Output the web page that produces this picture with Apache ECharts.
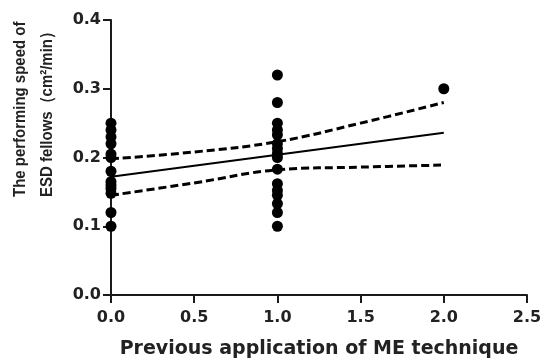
<!DOCTYPE html>
<html>
<head>
<meta charset="utf-8">
<script src="https://cdn.jsdelivr.net/npm/echarts@6/dist/echarts.min.js"></script>
<style>
  html, body { margin: 0; padding: 0; background: #fff; }
  #chart { width: 544px; height: 360px; }
</style>
</head>
<body>
<div id="chart"></div>
<script>
// Speed of ESD fellows grouped by number of previous ME applications
const groupNone = [0.25, 0.24, 0.23, 0.22, 0.205, 0.2, 0.18, 0.165, 0.16, 0.155, 0.148, 0.12, 0.10];
const groupOnce = [0.32, 0.28, 0.25, 0.24, 0.233, 0.22, 0.213, 0.206, 0.20, 0.183, 0.162, 0.152, 0.145, 0.133, 0.12, 0.10];
const groupTwice = [0.30];

// Fitted regression line and its 95% confidence band
const fitX = [0, 2];
const fitY = [0.172, 0.236];
const bandX = [0, 0.5, 1, 1.5, 2];
const bandUpper = [0.198, 0.208, 0.223, 0.250, 0.280];
const bandLower = [0.145, 0.163, 0.182, 0.186, 0.189];

const xTicks = [0, 0.5, 1.0, 1.5, 2.0, 2.5];
const yTicks = [0, 0.1, 0.2, 0.3, 0.4];

const xName = 'Previous application of ME technique';
const yName = 'The performing speed of\nESD fellows（cm²/min）';

const pts = [];
groupNone.forEach(v => pts.push([0, v]));
groupOnce.forEach(v => pts.push([1, v]));
groupTwice.forEach(v => pts.push([2, v]));

const pair = (xs, ys) => xs.map((x, i) => [x, ys[i]]);

const wideFont = 'DejaVu Sans, sans-serif';
const narrowFont = 'Liberation Sans, Arial, sans-serif';
const axisLine = { show: true, onZero: false, lineStyle: { color: '#1a1a1a', width: 2 } };
const axisTick = { show: true, inside: false, length: 8, lineStyle: { color: '#1a1a1a', width: 2 } };
const dash = { color: '#000', width: 3, type: [8, 4] };

const chart = echarts.init(document.getElementById('chart'), null, { renderer: 'canvas' });
chart.setOption({
  animation: false,
  backgroundColor: '#fff',
  grid: { left: 111, right: 17, top: 20, bottom: 65, containLabel: false, outerBoundsMode: 'none' },
  xAxis: {
    type: 'value',
    min: xTicks[0], max: xTicks[xTicks.length - 1], interval: 0.5,
    axisLine, axisTick,
    splitLine: { show: false },
    axisLabel: {
      color: '#222', fontFamily: wideFont, fontWeight: 'bold', fontSize: 16, margin: 15,
      formatter: v => v.toFixed(1)
    },
    name: xName, nameLocation: 'middle', nameGap: 45,
    nameTextStyle: { color: '#222', fontFamily: wideFont, fontWeight: 'bold', fontSize: 19 }
  },
  yAxis: {
    type: 'value',
    min: yTicks[0], max: yTicks[yTicks.length - 1], interval: 0.1,
    axisLine, axisTick,
    splitLine: { show: false },
    axisLabel: {
      color: '#222', fontFamily: wideFont, fontWeight: 'bold', fontSize: 16, margin: 10,
      formatter: v => v.toFixed(1)
    }
  },
  graphic: [{
    type: 'text',
    x: 34, y: 197,
    rotation: Math.PI / 2,
    scaleX: 0.88,
    style: {
      text: yName,
      fill: '#222',
      font: 'bold 17px ' + narrowFont,
      align: 'left',
      verticalAlign: 'middle',
      lineHeight: 27
    }
  }],
  series: [
    {
      type: 'line', data: pair(bandX, bandUpper), smooth: 0.4, symbol: 'none',
      lineStyle: dash, z: 2
    },
    {
      type: 'line', data: pair(bandX, bandLower), smooth: 0.4, symbol: 'none',
      lineStyle: dash, z: 2
    },
    {
      type: 'line', data: pair(fitX, fitY), symbol: 'none',
      lineStyle: { color: '#000', width: 1.8 }, z: 3
    },
    {
      type: 'scatter', data: pts, symbol: 'circle', symbolSize: 11,
      itemStyle: { color: '#000', opacity: 1 }, z: 4
    }
  ]
});
</script>
</body>
</html>
